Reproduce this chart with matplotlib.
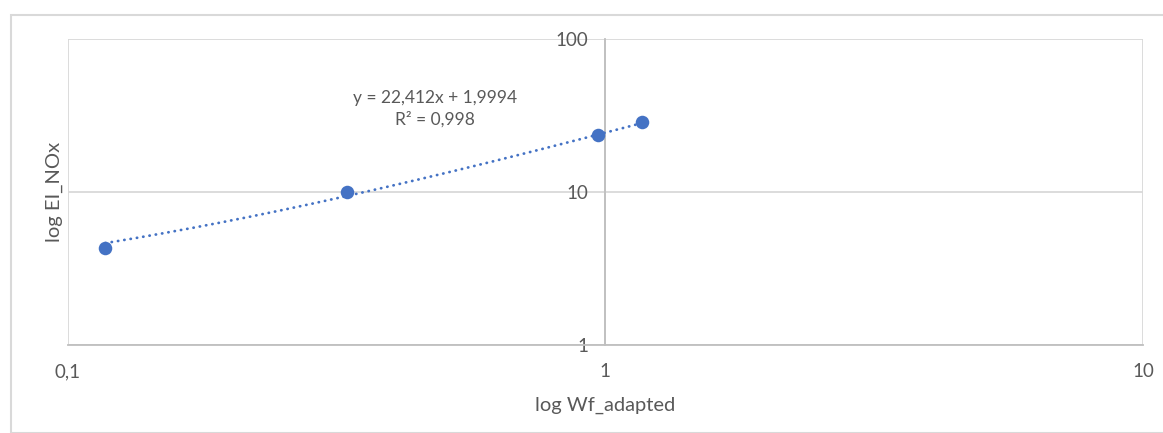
import matplotlib.pyplot as plt
import numpy as np
from matplotlib.patches import Rectangle
from matplotlib.ticker import FuncFormatter, FixedLocator, NullLocator

plt.rcParams['font.family'] = ['Lato', 'DejaVu Sans']

# measured points
wf_adapted = [0.1176, 0.331, 0.970, 1.17]
ei_nox = [4.30, 10.0, 23.6, 28.8]

# linear trend from the fit
slope = 22.412
intercept = 1.9994
r2 = 0.998

blue = '#4472C4'
grey_txt = '#595959'
grid_col = '#d9d9d9'

fig = plt.figure(figsize=(11.63, 4.33), dpi=100)
fig.patches.append(Rectangle((11 / 1163, 0), 1.2, (433 - 15) / 433, transform=fig.transFigure,
                             fill=False, edgecolor=grid_col, lw=1.5, zorder=0))

ax = fig.add_axes([67.5 / 1163, (433 - 345) / 433, (1143 - 67.5) / 1163, (345 - 39) / 433])
ax.set_xscale('log')
ax.set_yscale('log')
ax.set_xlim(0.1, 10)
ax.set_ylim(1, 100)

xt = np.linspace(min(wf_adapted), max(wf_adapted), 200)
ax.plot(xt, slope * xt + intercept, color=blue, lw=2.0, linestyle=(0, (0.1, 2.2)),
        dash_capstyle='round', zorder=3)
ax.scatter(wf_adapted, ei_nox, s=95, color=blue, zorder=4, linewidths=0)


def comma_fmt(v, pos):
    return ('%g' % v).replace('.', ',')


for axis in (ax.xaxis, ax.yaxis):
    axis.set_minor_locator(NullLocator())
    axis.set_major_formatter(FuncFormatter(comma_fmt))
ax.xaxis.set_major_locator(FixedLocator([0.1, 1, 10]))
ax.yaxis.set_major_locator(FixedLocator([1, 10, 100]))

for s in ('top', 'right'):
    ax.spines[s].set_visible(False)
ax.spines['left'].set_position(('data', 1))
ax.spines['left'].set_color('#bfbfbf')
ax.spines['left'].set_linewidth(1.3)
ax.spines['bottom'].set_color('#bfbfbf')
ax.spines['bottom'].set_linewidth(1.3)
ax.grid(True, color=grid_col, lw=1.3)
ax.set_axisbelow(True)

ax.tick_params(axis='both', length=0, labelsize=13.5, labelcolor=grey_txt)
ax.tick_params(axis='x', pad=13)
ax.tick_params(axis='y', pad=12)

ax.set_xlabel('log Wf_adapted', fontsize=14.5, color=grey_txt)
ax.set_ylabel('log EI_NOx', fontsize=14.5, color=grey_txt)
ax.xaxis.set_label_coords(0.5, -0.168)
ax.yaxis.set_label_coords(-0.004, 0.5)

ax.text(0.342, 0.772, 'y = 22,412x + 1,9994\nR² = 0,998', transform=ax.transAxes,
        ha='center', va='center', ma='center', fontsize=12.5, color=grey_txt, linespacing=1.4)

fig.savefig('out.png', dpi=100)
